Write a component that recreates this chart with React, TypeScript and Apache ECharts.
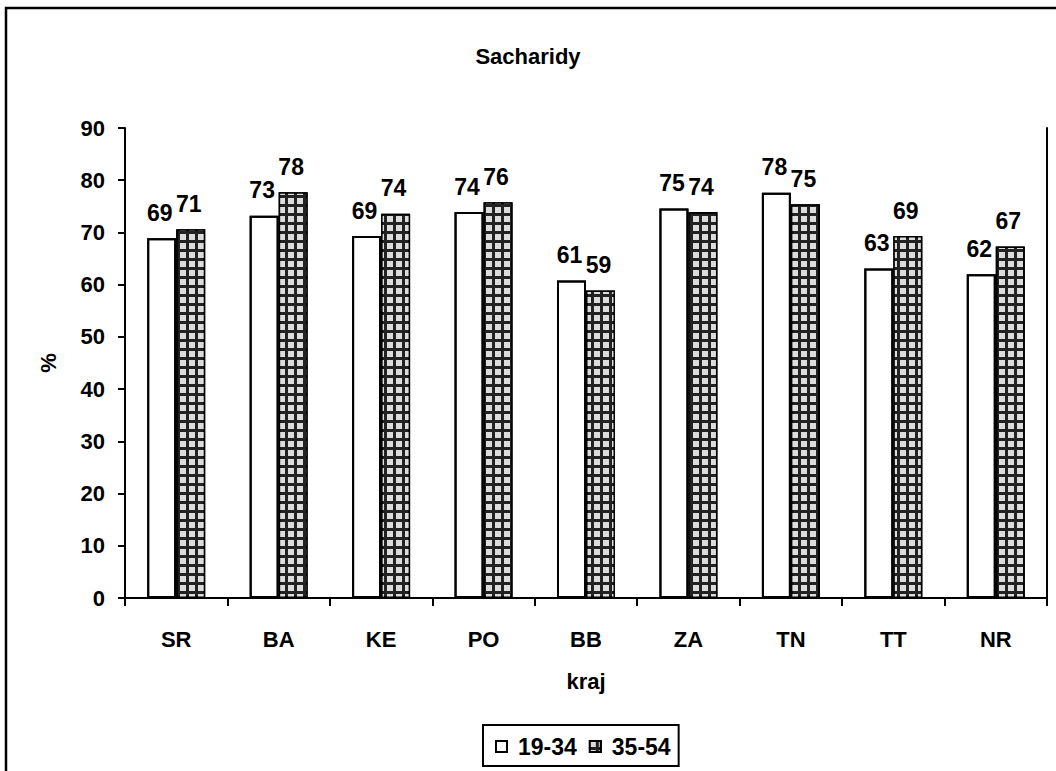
import React, { useEffect, useRef } from 'react';
import * as echarts from 'echarts';

// Share of carbohydrates (%) by region and age group
const categories = ['SR', 'BA', 'KE', 'PO', 'BB', 'ZA', 'TN', 'TT', 'NR'];
const seriesNames = ['19-34', '35-54'];
const group1934 = [68.9, 73.2, 69.3, 73.9, 60.8, 74.6, 77.6, 63.1, 62.0];
const group3554 = [70.6, 77.7, 73.6, 75.8, 58.9, 73.9, 75.4, 69.3, 67.3];
const yMin = 0;
const yMax = 90;
const yStep = 10;
const titleText = 'Sacharidy';
const xAxisName = 'kraj';
const yAxisName = '%';

const FONT = '"Liberation Sans", Arial, Helvetica, sans-serif';

const boldText = (size: number) => ({
  fontFamily: FONT,
  fontWeight: 'bold' as const,
  fontSize: size,
  color: '#000',
});

export default function App() {
  const ref = useRef<HTMLDivElement>(null);

  useEffect(() => {
    if (!ref.current) return;
    const chart = echarts.init(ref.current, null, { renderer: 'svg' });

    const valueLabel = {
      show: true,
      position: 'top' as const,
      distance: 14,
      offset: [-2, 0],
      formatter: (p: any) => String(Math.round(p.value)),
      ...boldText(23),
    };

    chart.setOption({
      animation: false,
      backgroundColor: '#ffffff',
      aria: { enabled: true, decal: { show: true } },
      title: {
        text: titleText,
        left: 'center',
        top: 40,
        textStyle: boldText(22),
      },
      legend: {
        data: seriesNames,
        left: 483,
        top: 725,
        orient: 'horizontal',
        icon: 'rect',
        itemWidth: 11,
        itemHeight: 11,
        itemGap: 12,
        padding: [10, 8, 8, 12],
        borderColor: '#000',
        borderWidth: 2,
        backgroundColor: '#fff',
        textStyle: { ...boldText(23), padding: [0, 0, 0, 6] },
      },
      grid: { left: 125, right: 9, top: 128, bottom: 173 },
      xAxis: {
        type: 'category',
        data: categories,
        name: xAxisName,
        nameLocation: 'middle',
        nameGap: 72,
        nameTextStyle: boldText(22),
        axisLine: { show: true, lineStyle: { color: '#000', width: 2 } },
        axisTick: { show: true, length: 8, lineStyle: { color: '#000', width: 2 } },
        axisLabel: { margin: 30, ...boldText(22) },
        splitLine: { show: false },
      },
      yAxis: [
        {
          type: 'value',
          min: yMin,
          max: yMax,
          interval: yStep,
          name: yAxisName,
          nameLocation: 'middle',
          nameGap: 66,
          nameRotate: 90,
          nameTextStyle: boldText(22),
          axisLine: { show: true, lineStyle: { color: '#000', width: 2 } },
          axisTick: { show: true, length: 7, lineStyle: { color: '#000', width: 2 } },
          axisLabel: { margin: 20, ...boldText(22) },
          splitLine: { show: false },
        },
        {
          type: 'value',
          position: 'right',
          min: yMin,
          max: yMax,
          interval: yStep,
          axisLine: { show: true, lineStyle: { color: '#000', width: 2 } },
          axisTick: { show: false },
          axisLabel: { show: false },
          splitLine: { show: false },
        },
      ],
      series: [
        {
          name: seriesNames[0],
          type: 'bar',
          data: group1934,
          barWidth: 29,
          barGap: '0%',
          itemStyle: {
            color: '#ffffff',
            borderColor: '#000',
            borderWidth: 2,
            decal: { symbol: 'none' },
          },
          label: valueLabel,
        },
        {
          name: seriesNames[1],
          type: 'bar',
          data: group3554,
          barWidth: 29,
          barGap: '0%',
          itemStyle: {
            color: '#222222',
            borderColor: '#000',
            borderWidth: 1.5,
            decal: {
              symbol: 'rect',
              symbolSize: 1,
              dashArrayX: [6, 3],
              dashArrayY: [6, 3],
              color: '#dcdcdc',
              rotation: 0,
            },
          },
          label: valueLabel,
        },
      ],
      graphic: [
        {
          type: 'rect',
          silent: true,
          z: 100,
          shape: { x: 6, y: 8, width: 1200, height: 900 },
          style: { fill: 'none', stroke: '#000', lineWidth: 2.5 },
        },
      ],
    });

    return () => chart.dispose();
  }, []);

  return (
    <div
      ref={ref}
      style={{ position: 'fixed', left: 0, top: 0, width: 1056, height: 771 }}
    />
  );
}
